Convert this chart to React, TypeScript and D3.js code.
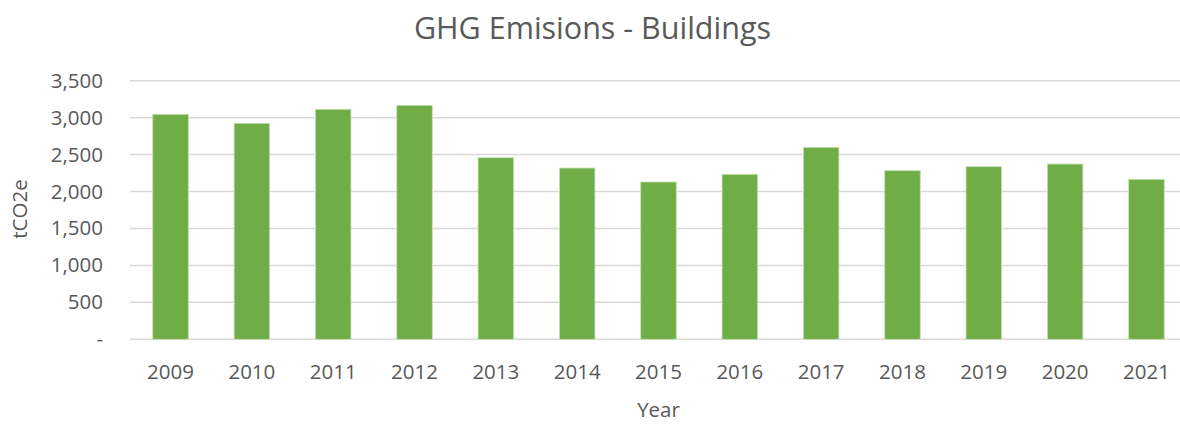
import React from 'react'
import * as d3 from 'd3'

const years = ['2009', '2010', '2011', '2012', '2013', '2014', '2015', '2016', '2017', '2018', '2019', '2020', '2021']
const emissions = [3045, 2923, 3113, 3167, 2458, 2318, 2129, 2233, 2598, 2282, 2336, 2372, 2165]
const yTicks = [0, 500, 1000, 1500, 2000, 2500, 3000, 3500]

const title = 'GHG Emisions - Buildings'
const yTitle = 'tCO2e'
const xTitle = 'Year'

function App() {
  const width = 1180
  const height = 424
  const left = 130
  const right = 1187
  const top = 80.7
  const bottom = 339.3
  const font = '"Open Sans", sans-serif'
  const textColor = '#595959'

  const x = d3.scaleBand().domain(years).range([left, right]).paddingInner(0.563).paddingOuter(0.28)
  const y = d3.scaleLinear().domain([0, 3500]).range([bottom, top])
  const fmt = d3.format(',')

  return (
    <svg width={width} height={height} style={{ position: 'absolute', left: 0, top: 0 }}>
      <rect width={width} height={height} fill="#fff" />
      <text x={592.5} y={38.5} textAnchor="middle" fontFamily={font} fontSize={30.5} fill={textColor}>{title}</text>

      {yTicks.map(t => (
        <g key={t}>
          <line x1={left} x2={width} y1={y(t)} y2={y(t)} stroke="#d9d9d9" strokeWidth={1.5} />
          <text x={103} y={y(t) + 7} textAnchor="end" fontFamily={font} fontSize={20.5} fill={textColor}>
            {t === 0 ? '-' : fmt(t)}
          </text>
        </g>
      ))}

      {years.map((yr, i) => (
        <g key={yr}>
          <rect x={x(yr)} y={y(emissions[i])} width={x.bandwidth()} height={bottom - y(emissions[i])}
            fill="#70ad47" stroke="#c5e0b4" strokeWidth={0.8} />
          <text x={(x(yr) as number) + x.bandwidth() / 2} y={379} textAnchor="middle" fontFamily={font} fontSize={20.5} fill={textColor}>{yr}</text>
        </g>
      ))}

      <text transform="translate(27,209) rotate(-90)" textAnchor="middle" fontFamily={font} fontSize={20.5} fill={textColor}>{yTitle}</text>
      <text x={658.5} y={417} textAnchor="middle" fontFamily={font} fontSize={20.5} fill={textColor}>{xTitle}</text>
    </svg>
  )
}

export default App
